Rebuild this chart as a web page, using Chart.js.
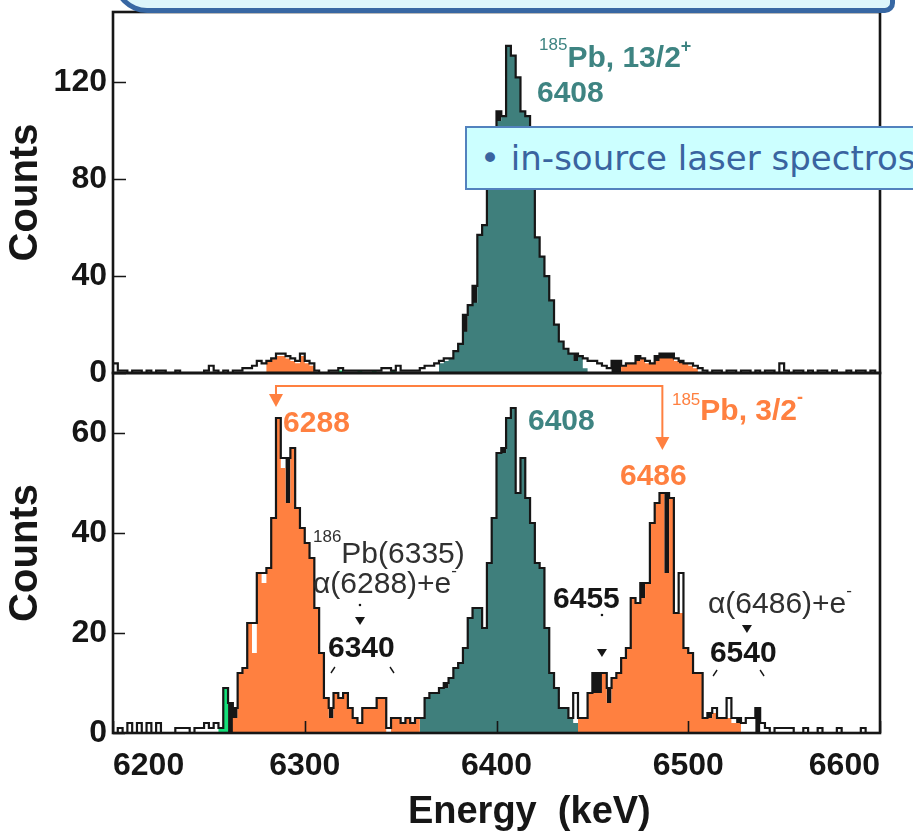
<!DOCTYPE html>
<html lang="en">
<head>
<meta charset="utf-8">
<title>185Pb alpha-decay spectra</title>
<script src="https://cdn.jsdelivr.net/npm/chart.js"></script>
<style>
  html, body { margin: 0; padding: 0; background: #fff; }
  body { position: relative; width: 913px; height: 837px; overflow: hidden; }
  canvas { position: absolute; left: 0; top: 0; }
  .band { position: absolute; left: 113px; top: -36px; width: 772px; height: 44px; background: #dcf5fb;
          border: 5px solid #3767a3; border-top: none; border-radius: 0 0 10px 34px; }
  .callout { position: absolute; left: 465px; top: 126px; width: 480px; height: 60px; padding-left: 13px;
             border: 2px solid #5282be; background: #ccffff; color: #3a64a0;
             font: 34px "DejaVu Sans", Verdana, sans-serif; line-height: 60px; white-space: nowrap; overflow: hidden; }
</style>
</head>
<body>
<canvas id="upper" width="913" height="837"></canvas>
<canvas id="lower" width="913" height="837"></canvas>
<div class="band"></div>
<div class="callout">• in-source laser spectros</div>
<script>
const BIN = 2.5;            // keV per channel
const E_MIN = 6200, E_MAX = 6600;

const energyLabels = [6200, 6300, 6400, 6500, 6600];
const upperCountLabels = [0, 40, 80, 120];
const lowerCountLabels = [0, 20, 40, 60];

// upper panel, all channels 6200-6600 keV
const upperTotal = [
  4, 1, 1, 0, 1, 1, 0, 1, 0, 1,
  1, 0, 0, 1, 0, 0, 0, 0, 0, 1,
  3, 1, 0, 1, 0, 1, 1, 2, 2, 3,
  5, 4, 5, 6, 8, 8, 7, 6, 5, 8,
  5, 4, 1, 0, 0, 1, 1, 2, 1, 1,
  1, 1, 1, 1, 1, 1, 2, 2, 1, 3,
  1, 1, 1, 1, 2, 3, 3, 4, 5, 6,
  6, 9, 12, 24, 28, 36, 57, 61, 80, 96,
  108, 106, 135, 131, 122, 108, 106, 88, 56, 48,
  40, 30, 20, 13, 10, 8, 8, 7, 6, 5,
  5, 4, 3, 2, 5, 5, 3, 4, 4, 7,
  6, 5, 4, 7, 8, 8, 8, 6, 5, 4,
  4, 3, 2, 1, 0, 1, 1, 0, 1, 1,
  0, 1, 1, 0, 1, 0, 1, 1, 0, 4,
  1, 0, 1, 1, 0, 1, 0, 1, 1, 0,
  1, 0, 0, 1, 0, 1, 1, 0, 1, 0
];
const upperDarkFrom = 6382.5;
const upperDark = [
  24, 0, 36, 0, 0, 0, 0, 108, 0, 0,
  0, 0, 0, 0, 0, 0, 0, 0, 0, 0,
  0, 0, 0, 8, 0, 0, 0, 0, 0, 0,
  0, 5, 5, 0, 0, 0, 7, 0, 0, 0,
  7, 8, 8, 8, 0, 5
];
const upperTealFrom = 6370;
const upperTeal = [4, 5, 6, 9, 12, 17, 28, 29, 57, 61, 80, 96, 104, 106, 135, 131, 122, 108, 106, 88,
                   56, 48, 40, 30, 20, 13, 10, 8, 5, 7, 2];
const upperOrangeAFrom = 6280;
const upperOrangeA = [5, 6, 7, 7, 6, 5, 4, 7, 4, 3];
const upperOrangeBFrom = 6465;
const upperOrangeB = [3, 4, 4, 5, 6, 4, 4, 5, 6, 6, 6, 5, 4, 4, 3, 2];
const upperGreenFrom = 6317.5;
const upperGreen = [1, 0, 0, 0, 1, 0, 0, 1, 0, 0, 0, 1];

// lower panel, all channels 6200-6600 keV
const lowerTotal = [
  0, 1, 0, 2, 0, 2, 0, 2, 0, 2,
  0, 0, 0, 1, 1, 1, 0, 1, 1, 2,
  1, 2, 1, 9, 6, 5, 12, 13, 22, 22,
  32, 32, 33, 43, 63, 55, 55, 57, 45, 41,
  38, 35, 25, 16, 7, 5, 8, 7, 8, 5,
  3, 2, 5, 5, 5, 7, 7, 1, 3, 3,
  2, 3, 2, 3, 3, 7, 8, 8, 9, 10,
  11, 13, 14, 17, 23, 25, 25, 21, 34, 43,
  56, 57, 63, 65, 48, 55, 47, 42, 34, 33,
  21, 12, 9, 5, 5, 3, 8, 3, 3, 8,
  12, 12, 12, 9, 11, 12, 15, 17, 27, 26,
  30, 30, 42, 46, 48, 48, 47, 24, 32, 17,
  16, 12, 12, 3, 4, 5, 3, 3, 7, 3,
  3, 2, 3, 3, 5, 2, 1, 0, 1, 1,
  1, 1, 0, 0, 1, 0, 0, 1, 0, 0,
  0, 1, 0, 0, 0, 0, 1, 0, 0, 0
];
const lowerDarkFrom = 6260;
const lowerDark = [
  6, 5, 0, 0, 0, 0, 0, 0, 0, 0,
  0, 0, 55, 0, 0, 0, 0, 0, 0, 0,
  0, 5, 0, 0, 0, 0, 0, 0, 0, 0,
  0, 0, 0, 0, 0, 0, 0, 0, 0, 0,
  0, 0, 0, 0, 0, 10, 0, 0, 0, 0,
  0, 0, 0, 0, 0, 0, 0, 57, 0, 0,
  0, 0, 0, 0, 0, 0, 0, 0, 0, 0,
  0, 0, 0, 0, 0, 0, 12, 12, 0, 9,
  0, 0, 0, 0, 0, 0, 30, 0, 0, 0,
  0, 48, 0, 0, 0, 0, 0, 0, 0, 0,
  4, 0, 0, 0, 0, 0, 3, 0, 0, 0,
  5
];
const lowerGreenFrom = 6255;
const lowerGreen = [1, 9];
const lowerOrangeAFrom = 6262.5;
const lowerOrangeA = [3, 12, 13, 22, 16, 32, 30, 33, 43, 63, 53, 46, 57, 45, 41, 38, 35, 25, 16, 7,
                      3, 8, 7, 8, 5, 3, 2, 5, 5, 5, 7, 7, 0, 3, 3, 2, 3, 2, 3];
const lowerTealFrom = 6360;
const lowerTeal = [3, 7, 8, 8, 9, 9, 11, 13, 14, 17, 23, 25, 25, 21, 34, 43, 56, 56, 63, 65,
                   48, 55, 47, 42, 34, 33, 21, 12, 9, 5, 5, 3, 2];
const lowerOrangeBFrom = 6442.5;
const lowerOrangeB = [3, 3, 8, 8, 8, 12, 6, 11, 12, 15, 17, 27, 26, 27, 30, 42, 46, 48, 32, 47,
                      24, 24, 17, 16, 12, 12, 3, 3, 4, 3, 3, 3, 2, 2];

const INK = '#161616';
const GREY = '#303030';
const TEAL = '#3f7f7c', TEAL_TEXT = '#3e8482';
const ORANGE = '#ff8040', GREEN = '#14e07a';
const FONT = '"Liberation Sans", Arial, Helvetica, sans-serif';
const BIG = `bold 30px ${FONT}`;
const SUP = `17px ${FONT}`;
const SUPB = `bold 18px ${FONT}`;
const THIN = `30px ${FONT}`;
const TITLE = `bold 38px ${FONT}`;

Chart.defaults.font.family = FONT;
Chart.defaults.color = INK;

// channel counts -> step points at channel centres, closed to zero on both sides
function steps(from, counts) {
  const pts = [{ x: from - BIN / 2, y: 0 }];
  counts.forEach((c, i) => pts.push({ x: from + BIN * i + BIN / 2, y: c }));
  pts.push({ x: from + BIN * counts.length + BIN / 2, y: 0 });
  return pts;
}

function fillSet(from, counts, color, order) {
  return { data: steps(from, counts), stepped: 'middle', fill: 'origin', backgroundColor: color,
           borderColor: 'transparent', borderWidth: 0, pointRadius: 0, order };
}

function outlineSet(counts) {
  return { data: steps(E_MIN, counts), stepped: 'middle', fill: false, borderColor: INK,
           borderWidth: 2.2, borderJoinStyle: 'miter', pointRadius: 0, order: 0 };
}

// frame and inward tick marks
const frame = yTickLen => ({
  id: 'frame',
  afterDatasetsDraw(chart) {
    const { ctx, chartArea: a, scales: { x, y } } = chart;
    ctx.save();
    ctx.strokeStyle = INK;
    ctx.lineWidth = 1.6;
    ctx.beginPath();
    x.ticks.forEach(t => {
      const px = Math.round(x.getPixelForValue(t.value)) + 0.5;
      const len = t.value % 50 === 0 ? 12 : 6;
      ctx.moveTo(px, a.bottom);
      ctx.lineTo(px, a.bottom - len);
    });
    y.ticks.forEach(t => {
      const py = Math.round(y.getPixelForValue(t.value)) + 0.5;
      ctx.moveTo(a.left, py);
      ctx.lineTo(a.left + yTickLen, py);
    });
    ctx.stroke();
    ctx.lineWidth = 2.6;
    ctx.strokeRect(a.left, a.top, a.right - a.left, a.bottom - a.top);
    ctx.restore();
  }
});

function drawNote(ctx, x, y, n) {
  const px = x.getPixelForValue(n.e), py = y.getPixelForValue(n.c);
  ctx.fillStyle = ctx.strokeStyle = n.color || INK;
  if (n.runs) {
    let cx = px;
    ctx.textAlign = 'left';
    ctx.textBaseline = 'alphabetic';
    n.runs.forEach(([s, font, rise = 0]) => {
      ctx.font = font;
      ctx.fillText(s, cx, py - rise);
      cx += ctx.measureText(s).width;
    });
  } else if (n.kind === 'tri') {
    ctx.beginPath();
    ctx.moveTo(px - 5, py - 8); ctx.lineTo(px + 5, py - 8); ctx.lineTo(px, py);
    ctx.closePath(); ctx.fill();
  } else if (n.kind === 'dot') {
    ctx.beginPath(); ctx.arc(px, py, 1.3, 0, 2 * Math.PI); ctx.fill();
  } else if (n.kind === 'slash') {
    ctx.lineWidth = 1.4;
    ctx.beginPath();
    ctx.moveTo(px - 2 * n.dir, py - 3); ctx.lineTo(px + 2 * n.dir, py + 3);
    ctx.stroke();
  } else if (n.kind === 'arrow') {
    const x2 = x.getPixelForValue(n.to), yl = y.getPixelForValue(n.level);
    const t1 = py, t2 = y.getPixelForValue(n.c2);
    ctx.strokeStyle = ctx.fillStyle = ORANGE;
    ctx.lineWidth = 2;
    ctx.beginPath();
    ctx.moveTo(px, t1 - 12); ctx.lineTo(px, yl); ctx.lineTo(x2, yl); ctx.lineTo(x2, t2 - 12);
    ctx.stroke();
    [[px, t1], [x2, t2]].forEach(([ax, ay]) => {
      ctx.beginPath();
      ctx.moveTo(ax - 7, ay - 13); ctx.lineTo(ax + 7, ay - 13); ctx.lineTo(ax, ay);
      ctx.closePath(); ctx.fill();
    });
  }
}

const notes = list => ({
  id: 'notes',
  afterDraw(chart) {
    const { ctx, scales: { x, y } } = chart;
    ctx.save();
    list.forEach(n => drawNote(ctx, x, y, n));
    ctx.restore();
  }
});

const upperNotes = [
  { e: 6422.2, c: 126.3, color: TEAL_TEXT, runs: [['185', SUP, 17], ['Pb, 13/2', BIG], ['+', SUPB, 15]] },
  { e: 6421.1, c: 111.9, color: TEAL_TEXT, runs: [['6408', BIG]] }
];

const lowerNotes = [
  { kind: 'arrow', e: 6285, c: 65.2, to: 6486.5, c2: 56.6, level: 69.4 },
  { e: 6288.7, c: 60.2, color: ORANGE, runs: [['6288', BIG]] },
  { e: 6416.4, c: 60.6, color: TEAL_TEXT, runs: [['6408', BIG]] },
  { e: 6491.5, c: 62.6, color: ORANGE, runs: [['185', SUP, 15], ['Pb, 3/2', BIG], ['-', SUPB, 17]] },
  { e: 6464.4, c: 49.6, color: ORANGE, runs: [['6486', BIG]] },
  { e: 6304.3, c: 34, color: GREY, runs: [['186', SUP, 21], ['Pb(6335)', THIN]] },
  { e: 6304.3, c: 28, color: GREY, runs: [['α(6288)+e', THIN], ['-', SUP, 17]] },
  { kind: 'dot', e: 6328.8, c: 25.6 },
  { kind: 'tri', e: 6328.8, c: 21.6 },
  { e: 6312.1, c: 15.2, runs: [['6340', BIG]] },
  { kind: 'slash', e: 6314.7, c: 12.6, dir: -1 },
  { kind: 'slash', e: 6345.5, c: 12.6, dir: 1 },
  { e: 6429.5, c: 25, runs: [['6455', BIG]] },
  { kind: 'dot', e: 6455, c: 23.6 },
  { kind: 'tri', e: 6455, c: 15.2 },
  { e: 6510.3, c: 24, color: GREY, runs: [['α(6486)+e', THIN], ['-', SUP, 17]] },
  { kind: 'dot', e: 6530.6, c: 24.2 },
  { kind: 'tri', e: 6530.6, c: 20 },
  { e: 6511.3, c: 14.2, runs: [['6540', BIG]] },
  { kind: 'slash', e: 6514, c: 12, dir: -1 },
  { kind: 'slash', e: 6538.5, c: 12, dir: 1 },
  { e: 6353.8, c: -18, runs: [['Energy  (keV)', TITLE]] }
];

function makePanel(id, cfg) {
  return new Chart(document.getElementById(id), {
    type: 'line',
    data: { datasets: cfg.datasets },
    options: {
      responsive: false,
      animation: false,
      events: [],
      layout: { padding: cfg.padding },
      plugins: { legend: { display: false }, tooltip: { enabled: false } },
      scales: {
        x: {
          type: 'linear', min: E_MIN, max: E_MAX,
          grid: { display: false, drawTicks: false },
          border: { display: false },
          ticks: {
            stepSize: 10, autoSkip: false, maxRotation: 0, minRotation: 0,
            align: 'inner', padding: 14,
            font: { size: 32, weight: 'bold' },
            callback: v => (cfg.xLabels && energyLabels.includes(v)) ? String(v) : null
          },
          afterFit: s => { s.height = cfg.xHeight; s.paddingLeft = 0; s.paddingRight = 0; }
        },
        y: {
          min: 0, max: cfg.yMax,
          grid: { display: false, drawTicks: false },
          border: { display: false },
          ticks: {
            stepSize: cfg.yStep, includeBounds: false, autoSkip: false, padding: 6,
            font: { size: 32, weight: 'bold' },
            callback: v => cfg.yLabels.includes(v) ? String(v) : null
          },
          title: { display: true, text: 'Counts', font: { size: 40, weight: 'bold' }, padding: { top: 2, bottom: 0 } },
          afterFit: s => { s.width = 113; s.paddingTop = 0; s.paddingBottom = 0; }
        }
      }
    },
    plugins: [frame(cfg.yTickLen), notes(cfg.notes)]
  });
}

makePanel('upper', {
  padding: { top: 12, right: 33, bottom: 464, left: 0 },
  xHeight: 0, xLabels: false,
  yMax: 149, yStep: 20, yLabels: upperCountLabels, yTickLen: 13,
  notes: upperNotes,
  datasets: [
    outlineSet(upperTotal),
    fillSet(upperTealFrom, upperTeal, TEAL, 1),
    fillSet(upperOrangeAFrom, upperOrangeA, ORANGE, 1),
    fillSet(upperOrangeBFrom, upperOrangeB, ORANGE, 1),
    fillSet(upperGreenFrom, upperGreen, GREEN, 1),
    fillSet(upperDarkFrom, upperDark, INK, 2)
  ]
});

makePanel('lower', {
  padding: { top: 373, right: 33, bottom: 0, left: 0 },
  xHeight: 104, xLabels: true,
  yMax: 72, yStep: 10, yLabels: lowerCountLabels, yTickLen: 12,
  notes: lowerNotes,
  datasets: [
    outlineSet(lowerTotal),
    fillSet(lowerOrangeAFrom, lowerOrangeA, ORANGE, 1),
    fillSet(lowerTealFrom, lowerTeal, TEAL, 1),
    fillSet(lowerOrangeBFrom, lowerOrangeB, ORANGE, 1),
    fillSet(lowerGreenFrom, lowerGreen, GREEN, 1),
    fillSet(lowerDarkFrom, lowerDark, INK, 2)
  ]
});
</script>
</body>
</html>
